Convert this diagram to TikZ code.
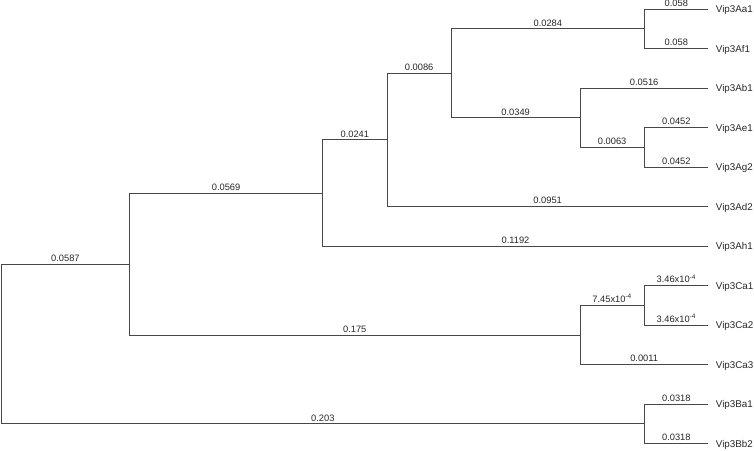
\documentclass[tikz,border=0pt]{standalone}
\usepackage{fontspec}
\setmainfont{Liberation Sans}
\usepackage{tikz}
\usetikzlibrary{positioning}

\tikzset{
  branch/.style={draw=black!72, line width=0.8pt},
  brlen/.style={anchor=base, yshift=2.6pt, inner sep=0pt, text=black!85, font=\fontsize{9.3}{10}\selectfont},
  leaf/.style={anchor=west, inner xsep=7.4pt, inner ysep=0pt, text height=7pt, text depth=0pt, text=black!85, font=\fontsize{9.8}{11}\selectfont},
}

\begin{document}
\begin{tikzpicture}[x=1pt, y=-1pt]
\useasboundingbox (0,0) rectangle (754,450);
% leaves
\node[leaf] (aa1) at (708.3,9) {Vip3Aa1};
\node[leaf] (af1) at (708.3,48.5) {Vip3Af1};
\node[leaf] (ab1) at (708.3,88) {Vip3Ab1};
\node[leaf] (ae1) at (708.3,127.5) {Vip3Ae1};
\node[leaf] (ag2) at (708.3,167) {Vip3Ag2};
\node[leaf] (ad2) at (708.3,206.5) {Vip3Ad2};
\node[leaf] (ah1) at (708.3,246) {Vip3Ah1};
\node[leaf] (ca1) at (708.3,285.5) {Vip3Ca1};
\node[leaf] (ca2) at (708.3,325) {Vip3Ca2};
\node[leaf] (ca3) at (708.3,364.5) {Vip3Ca3};
\node[leaf] (ba1) at (708.3,404) {Vip3Ba1};
\node[leaf] (bb2) at (708.3,443.5) {Vip3Bb2};
% inner nodes
\coordinate (aaf) at (644.3,28.7);
\coordinate (aeg) at (644.3,147.3);
\coordinate (abeg) at (580,117.6);
\coordinate (aall) at (451.3,73.1);
\coordinate (aad) at (387,139.8);
\coordinate (vip3a) at (322.7,192.9);
\coordinate (ca12) at (644.3,305.3);
\coordinate (vip3c) at (580,334.9);
\coordinate (ac) at (129.5,263.9);
\coordinate (vip3b) at (644.3,423.8);
\coordinate (root) at (1.3,343.8);
% edges
\draw[branch] (root) |- node[brlen,pos=0.75] {0.0587} (ac);
\draw[branch] (root) |- node[brlen,pos=0.75] {0.203} (vip3b);
\draw[branch] (ac) |- node[brlen,pos=0.75] {0.0569} (vip3a);
\draw[branch] (ac) |- node[brlen,pos=0.75] {0.175} (vip3c);
\draw[branch] (vip3a) |- node[brlen,pos=0.75] {0.0241} (aad);
\draw[branch] (vip3a) |- node[brlen,pos=0.75] {0.1192} (ah1.west);
\draw[branch] (aad) |- node[brlen,pos=0.75] {0.0086} (aall);
\draw[branch] (aad) |- node[brlen,pos=0.75] {0.0951} (ad2.west);
\draw[branch] (aall) |- node[brlen,pos=0.75] {0.0284} (aaf);
\draw[branch] (aall) |- node[brlen,pos=0.75] {0.0349} (abeg);
\draw[branch] (aaf) |- node[brlen,pos=0.75] {0.058} (aa1.west);
\draw[branch] (aaf) |- node[brlen,pos=0.75] {0.058} (af1.west);
\draw[branch] (abeg) |- node[brlen,pos=0.75] {0.0516} (ab1.west);
\draw[branch] (abeg) |- node[brlen,pos=0.75] {0.0063} (aeg);
\draw[branch] (aeg) |- node[brlen,pos=0.75] {0.0452} (ae1.west);
\draw[branch] (aeg) |- node[brlen,pos=0.75] {0.0452} (ag2.west);
\draw[branch] (vip3c) |- node[brlen,pos=0.75] {7.45x10\textsuperscript{-4}} (ca12);
\draw[branch] (vip3c) |- node[brlen,pos=0.75] {0.0011} (ca3.west);
\draw[branch] (ca12) |- node[brlen,pos=0.75] {3.46x10\textsuperscript{-4}} (ca1.west);
\draw[branch] (ca12) |- node[brlen,pos=0.75] {3.46x10\textsuperscript{-4}} (ca2.west);
\draw[branch] (vip3b) |- node[brlen,pos=0.75] {0.0318} (ba1.west);
\draw[branch] (vip3b) |- node[brlen,pos=0.75] {0.0318} (bb2.west);
\end{tikzpicture}
\end{document}
